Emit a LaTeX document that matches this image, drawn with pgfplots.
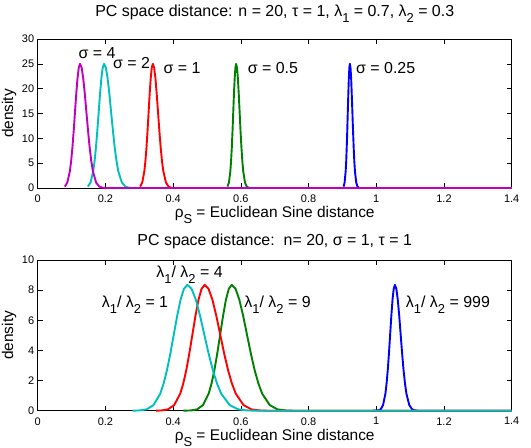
\documentclass[border=0pt]{standalone}
\usepackage{pgfplots}
\pgfplotsset{compat=1.18}
\usepackage{fontspec}
\setmainfont{Liberation Sans}

% MATLAB-like line colours
\definecolor{mlmag}{rgb}{0.75,0,0.75}
\definecolor{mlcyan}{rgb}{0,0.75,0.75}
\definecolor{mlgreen}{rgb}{0,0.5,0}
\definecolor{mlblue}{rgb}{0,0,1}
\definecolor{mlred}{rgb}{1,0,0}

% lowered subscript in the style of MATLAB's tex interpreter
\newcommand\sub[1]{\raisebox{-6.5bp}{\fontsize{13}{13}\selectfont #1}}

\tikzset{annot/.style={anchor=base west, font=\fontsize{16}{18}\selectfont, inner sep=0pt}}

\pgfplotsset{
  densax/.style={
    scale only axis, width=474bp,
    xmin=0, xmax=1.4,
    xtick={0,0.2,0.4,0.6,0.8,1,1.2,1.4},
    tick align=inside, major tick length=5bp,
    axis line style={black, line width=0.5bp},
    every tick/.style={black, line width=0.5bp},
    /pgf/number format/assume math mode=true,
    tick label style={font=\fontsize{11}{13}\selectfont},
    xticklabel style={yshift=-3.2bp},
    label style={font=\fontsize{15.5}{17}\selectfont},
    title style={font=\fontsize{16}{18}\selectfont, at={(axis description cs:0.5,1)}, anchor=base},
    xlabel style={at={(axis description cs:0.5,0)}, anchor=base, yshift=-29.4bp},
    ylabel style={at={(axis description cs:-0.0521,0.5)}, anchor=base},
    xlabel={ρ\sub{S} = Euclidean Sine distance},
    ylabel={density},
    clip=false,
    every axis plot/.style={line width=1.9bp, line join=round, mark=none},
  }
}

\begin{document}
\begin{tikzpicture}
\useasboundingbox (0,0) rectangle (531bp,448bp);

% ---- top panel: varying sigma ----
\begin{axis}[densax,
  at={(37.7bp,260bp)}, anchor=south west, height=149bp,
  ymin=0, ymax=30, ytick={0,5,10,15,20,25,30},
  title={PC space distance: n = 20, τ = 1, λ\sub{1} = 0.7, λ\sub{2} = 0.3},
  title style={yshift=16.7bp},
]
% sigma = 0.25
\addplot[mlblue] coordinates {(0.9034,0.28)(0.9065,1.10)(0.9096,3.38)(0.9112,5.41)(0.9127,8.12)(0.9143,11.45)(0.9158,15.16)(0.9174,18.87)(0.9189,22.06)(0.9205,24.23)(0.922,25)(0.9239,24.23)(0.9258,22.06)(0.9276,18.87)(0.9295,15.16)(0.9314,11.45)(0.9333,8.12)(0.9351,5.41)(0.937,3.38)(0.9408,1.10)(0.9445,0.28)(0.9483,0.05)(0.952,0)(1.4,0)};
% sigma = 0.5
\addplot[mlgreen] coordinates {(0.5605,0.28)(0.5648,1.10)(0.569,3.38)(0.5711,5.41)(0.5733,8.12)(0.5754,11.45)(0.5775,15.16)(0.5796,18.87)(0.5818,22.06)(0.5839,24.23)(0.586,25)(0.5886,24.23)(0.5913,22.06)(0.5939,18.87)(0.5965,15.16)(0.5991,11.45)(0.6018,8.12)(0.6044,5.41)(0.607,3.38)(0.6123,1.10)(0.6175,0.28)(0.6228,0.05)(0.628,0)(1.4,0)};
% sigma = 1
\addplot[mlred] coordinates {(0.3025,0.28)(0.3088,1.10)(0.315,3.38)(0.3181,5.41)(0.3213,8.12)(0.3244,11.45)(0.3275,15.16)(0.3306,18.87)(0.3338,22.06)(0.3369,24.23)(0.340,25)(0.3439,24.23)(0.3478,22.06)(0.3516,18.87)(0.3555,15.16)(0.3594,11.45)(0.3633,8.12)(0.3671,5.41)(0.371,3.38)(0.3788,1.10)(0.3865,0.28)(0.3943,0.05)(0.402,0)(1.4,0)};
% sigma = 2
\addplot[mlcyan] coordinates {(0.148,0.28)(0.156,1.10)(0.164,3.38)(0.168,5.41)(0.172,8.12)(0.176,11.45)(0.180,15.16)(0.184,18.87)(0.188,22.06)(0.192,24.23)(0.196,25)(0.2013,24.23)(0.2065,22.06)(0.2118,18.87)(0.217,15.16)(0.2223,11.45)(0.2275,8.12)(0.2328,5.41)(0.238,3.38)(0.2485,1.10)(0.259,0.28)(0.2695,0.05)(0.280,0)(1.4,0)};
% sigma = 4
\addplot[mlmag] coordinates {(0.080,0.28)(0.0875,1.10)(0.095,3.38)(0.0988,5.41)(0.1025,8.12)(0.1063,11.45)(0.110,15.16)(0.1138,18.87)(0.1175,22.06)(0.1213,24.23)(0.125,25)(0.1298,24.23)(0.1345,22.06)(0.1393,18.87)(0.144,15.16)(0.1488,11.45)(0.1535,8.12)(0.1583,5.41)(0.163,3.38)(0.1725,1.10)(0.182,0.28)(0.1915,0.05)(0.201,0)(1.4,0)};

\node[annot] at (axis cs:0.120,26.1) {σ = 4};
\node[annot] at (axis cs:0.222,24.0) {σ = 2};
\node[annot] at (axis cs:0.371,23.05) {σ = 1};
\node[annot] at (axis cs:0.620,23.05) {σ = 0.5};
\node[annot] at (axis cs:0.940,23.05) {σ = 0.25};
\end{axis}

% ---- bottom panel: varying eigenvalue ratio ----
\begin{axis}[densax,
  at={(37.7bp,37.3bp)}, anchor=south west, height=150.7bp,
  ymin=0, ymax=10, ytick={0,2,4,6,8,10},
  title={PC space distance:\ \ n= 20, σ = 1, τ = 1},
  title style={yshift=8.7bp},
]
% ratio 999
\addplot[mlblue] coordinates {(0.99,0)(1.006,0.02)(1.013,0.09)(1.020,0.37)(1.027,1.13)(1.0305,1.81)(1.034,2.71)(1.0375,3.82)(1.041,5.06)(1.0445,6.30)(1.048,7.37)(1.0515,8.09)(1.055,8.35)(1.0593,8.09)(1.0635,7.37)(1.0678,6.30)(1.072,5.06)(1.0763,3.82)(1.0805,2.71)(1.0848,1.81)(1.089,1.13)(1.0975,0.37)(1.106,0.09)(1.1145,0.02)(1.123,0)(1.4,0)};
% ratio 9
\addplot[mlgreen] coordinates {(0.43,0)(0.454,0.02)(0.471,0.09)(0.488,0.37)(0.505,1.13)(0.5135,1.81)(0.522,2.71)(0.5305,3.82)(0.539,5.06)(0.5475,6.30)(0.556,7.37)(0.5645,8.09)(0.573,8.35)(0.5843,8.09)(0.5955,7.37)(0.6068,6.30)(0.618,5.06)(0.6293,3.82)(0.6405,2.71)(0.6518,1.81)(0.663,1.13)(0.6855,0.37)(0.708,0.09)(0.7305,0.02)(0.753,0)(1.4,0)};
% ratio 4
\addplot[mlred] coordinates {(0.35,0)(0.367,0.02)(0.385,0.09)(0.403,0.37)(0.421,1.13)(0.430,1.81)(0.439,2.71)(0.448,3.82)(0.457,5.06)(0.466,6.30)(0.475,7.37)(0.484,8.09)(0.493,8.35)(0.5045,8.09)(0.516,7.37)(0.5275,6.30)(0.539,5.06)(0.5505,3.82)(0.562,2.71)(0.5735,1.81)(0.585,1.13)(0.608,0.37)(0.631,0.09)(0.654,0.02)(0.677,0)(1.4,0)};
% ratio 1
\addplot[mlcyan] coordinates {(0.28,0)(0.302,0.02)(0.322,0.09)(0.342,0.37)(0.362,1.13)(0.372,1.81)(0.382,2.71)(0.392,3.82)(0.402,5.06)(0.412,6.30)(0.422,7.37)(0.432,8.09)(0.442,8.35)(0.4545,8.09)(0.467,7.37)(0.4795,6.30)(0.492,5.06)(0.5045,3.82)(0.517,2.71)(0.5295,1.81)(0.542,1.13)(0.567,0.37)(0.592,0.09)(0.617,0.02)(0.642,0)(1.4,0)};

\node[annot] at (axis cs:0.350,8.85) {λ\sub{1}/ λ\sub{2} = 4};
\node[annot] at (axis cs:0.189,6.85) {λ\sub{1}/ λ\sub{2} = 1};
\node[annot] at (axis cs:0.610,6.85) {λ\sub{1}/ λ\sub{2} = 9};
\node[annot] at (axis cs:1.087,6.85) {λ\sub{1}/ λ\sub{2} = 999};
\end{axis}
\end{tikzpicture}
\end{document}
